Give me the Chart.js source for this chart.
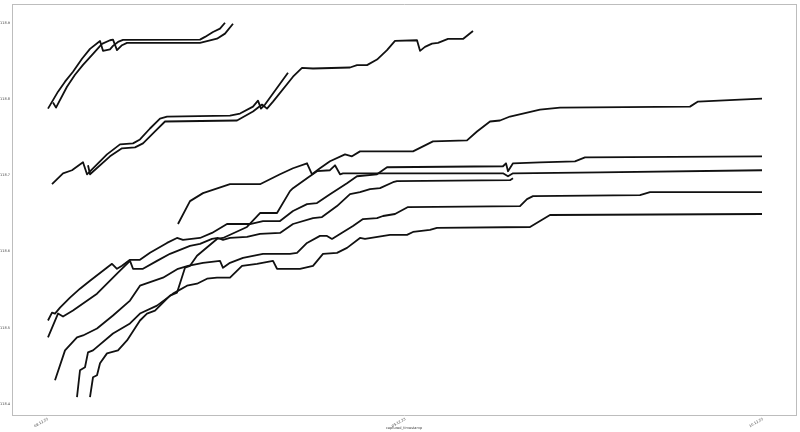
<!DOCTYPE html>
<html>
<head>
<meta charset="utf-8">
<script src="https://cdn.jsdelivr.net/npm/chart.js@4/dist/chart.umd.min.js"></script>
<style>
  html, body { margin: 0; padding: 0; background: #ffffff; }
  #wrap { width: 800px; height: 432px; position: relative; }
</style>
</head>
<body>
<div id="wrap"><canvas id="c"></canvas></div>
<script>
// ---- tick labels ----
const xTickValues = [0, 1, 2];
const xTickLabels = ["08.12.23", "09.12.23", "10.12.23"];
const yTickValues = [118.4, 118.5, 118.6, 118.7, 118.8, 118.9];
const yTickLabels = ["118.4", "118.5", "118.6", "118.7", "118.8", "118.9"];
const xAxisTitle = "captured_timestamp";

// ---- series (x in days from first tick, y values) ----
const s1aX = [0, 0.0280, 0.0476, 0.0699, 0.0951, 0.1175, 0.1455, 0.1538, 0.1734, 0.1818, 0.1958, 0.2098, 0.4252, 0.4392, 0.4615, 0.4811, 0.4951];
const s1aY = [118.7874, 118.8096, 118.8227, 118.8357, 118.8527, 118.8657, 118.8761, 118.8631, 118.8651, 118.8696, 118.8748, 118.8774, 118.8778, 118.8814, 118.8879, 118.8922, 118.9000];

const s1bX = [0.0140, 0.0224, 0.0531, 0.0755, 0.0979, 0.1259, 0.1510, 0.1734, 0.1818, 0.1930, 0.2070, 0.2210, 0.4252, 0.4448, 0.4727, 0.4951, 0.5175];
const s1bY = [118.7953, 118.7887, 118.8161, 118.8318, 118.8448, 118.8592, 118.8722, 118.8770, 118.8778, 118.8640, 118.8705, 118.8735, 118.8735, 118.8757, 118.8791, 118.8857, 118.8987];

const s2aX = [0.0112, 0.0420, 0.0671, 0.0979, 0.1091, 0.1650, 0.2014, 0.2378, 0.2573, 0.2853, 0.3133, 0.3329, 0.5091, 0.5371, 0.5734, 0.5874, 0.5958, 0.6070, 0.6713];
const s2aY = [118.6883, 118.7026, 118.7066, 118.7170, 118.7013, 118.7274, 118.7405, 118.7418, 118.7470, 118.7613, 118.7744, 118.7770, 118.7783, 118.7809, 118.7900, 118.7979, 118.7874, 118.7927, 118.8344];

const s2bX = [0.1119, 0.1175, 0.1734, 0.2070, 0.2434, 0.2657, 0.2993, 0.3273, 0.5287, 0.5734, 0.5986, 0.6126, 0.6294, 0.6853, 0.7105, 0.7413, 0.8448, 0.8643, 0.8923, 0.9203, 0.9483, 0.9706, 1.0322, 1.0406, 1.0545, 1.0741, 1.0909, 1.1189, 1.1608, 1.1888];
const s2bY = [118.7131, 118.7013, 118.7248, 118.7353, 118.7366, 118.7418, 118.7574, 118.7705, 118.7718, 118.7835, 118.7927, 118.7874, 118.7966, 118.8292, 118.8409, 118.8400, 118.8413, 118.8444, 118.8444, 118.8517, 118.8640, 118.8761, 118.8770, 118.8631, 118.8683, 118.8726, 118.8735, 118.8787, 118.8787, 118.8892];

const s4X = [0.3636, 0.3972, 0.4336, 0.5091, 0.5930, 0.6210, 0.6490, 0.6853, 0.7245, 0.7385, 0.7608, 0.7888, 0.8308, 0.8503, 0.8727, 1.0210, 1.0490, 1.0769, 1.1720, 1.2000, 1.2364, 1.2643, 1.2923, 1.3762, 1.4322, 1.7958, 1.8182, 1.9357, 1.9972];
const s4Y = [118.6361, 118.6661, 118.6766, 118.6883, 118.6883, 118.6948, 118.7013, 118.7092, 118.7157, 118.7013, 118.7092, 118.7183, 118.7274, 118.7248, 118.7313, 118.7313, 118.7379, 118.7444, 118.7457, 118.7574, 118.7705, 118.7718, 118.7770, 118.7861, 118.7887, 118.7900, 118.7966, 118.7992, 118.8005];

const s5X = [0.1175, 0.1259, 0.1371, 0.1455, 0.1650, 0.1958, 0.2210, 0.2573, 0.2769, 0.2993, 0.3413, 0.3608, 0.3832, 0.3972, 0.4168, 0.4727, 0.4895, 0.5566, 0.5930, 0.6406, 0.6769, 0.6853, 0.7245, 0.7524, 0.7888, 0.8028, 0.8168, 0.8252, 1.2727, 1.2867, 1.3007, 1.5441, 1.9972];
const s5Y = [118.4091, 118.4352, 118.4378, 118.4535, 118.4665, 118.4704, 118.4835, 118.5096, 118.5187, 118.5226, 118.5422, 118.5461, 118.5787, 118.5813, 118.5944, 118.6165, 118.6178, 118.6322, 118.6505, 118.6505, 118.6792, 118.6831, 118.6961, 118.7053, 118.7066, 118.7131, 118.7013, 118.7026, 118.7026, 118.6987, 118.7026, 118.7039, 118.7066];

const s6X = [0, 0.0112, 0.0196, 0.0336, 0.0615, 0.0895, 0.1175, 0.1790, 0.1930, 0.2070, 0.2294, 0.2573, 0.2853, 0.3329, 0.3608, 0.3776, 0.4252, 0.4587, 0.5007, 0.5650, 0.6014, 0.6490, 0.6853, 0.7245, 0.7524, 0.7888, 0.8364, 0.8643, 0.9203, 0.9483, 1.2727, 1.2811, 1.2867, 1.3007, 1.3762, 1.4741, 1.5021, 1.9972];
const s6Y = [118.5096, 118.5200, 118.5187, 118.5265, 118.5396, 118.5513, 118.5618, 118.5839, 118.5774, 118.5813, 118.5892, 118.5892, 118.5983, 118.6113, 118.6178, 118.6152, 118.6178, 118.6244, 118.6361, 118.6361, 118.6400, 118.6400, 118.6531, 118.6622, 118.6635, 118.6752, 118.6896, 118.6987, 118.7013, 118.7105, 118.7118, 118.7157, 118.7053, 118.7157, 118.7170, 118.7183, 118.7235, 118.7248];

const s7X = [0, 0.0280, 0.0420, 0.0699, 0.1371, 0.1930, 0.2294, 0.2378, 0.2657, 0.3049, 0.3413, 0.3972, 0.4252, 0.4587, 0.4755, 0.4895, 0.5091, 0.5566, 0.5930, 0.6490, 0.6853, 0.7413, 0.7664, 0.8084, 0.8448, 0.8727, 0.9007, 0.9287, 0.9650, 0.9762, 1.2923, 1.3007];
const s7Y = [118.4874, 118.5187, 118.5148, 118.5226, 118.5448, 118.5709, 118.5878, 118.5774, 118.5774, 118.5878, 118.5970, 118.6074, 118.6100, 118.6165, 118.6178, 118.6152, 118.6178, 118.6192, 118.6231, 118.6244, 118.6361, 118.6439, 118.6452, 118.6596, 118.6752, 118.6779, 118.6818, 118.6831, 118.6909, 118.6922, 118.6935, 118.6961];

const s8X = [0.0196, 0.0476, 0.0811, 0.0979, 0.1371, 0.1818, 0.2294, 0.2573, 0.3217, 0.3636, 0.3916, 0.4336, 0.4811, 0.4895, 0.5091, 0.5455, 0.6014, 0.6769, 0.6965, 0.7245, 0.7608, 0.7804, 0.7944, 0.8168, 0.8531, 0.8811, 0.9203, 0.9371, 0.9706, 1.0070, 1.3203, 1.3399, 1.3566, 1.6559, 1.6839, 1.9972];
const s8Y = [118.4313, 118.4704, 118.4874, 118.4900, 118.4991, 118.5161, 118.5357, 118.5552, 118.5657, 118.5774, 118.5813, 118.5852, 118.5878, 118.5787, 118.5852, 118.5918, 118.5970, 118.5970, 118.5983, 118.6113, 118.6205, 118.6205, 118.6165, 118.6231, 118.6335, 118.6426, 118.6439, 118.6466, 118.6492, 118.6583, 118.6596, 118.6687, 118.6726, 118.6739, 118.6779, 118.6779];

const s9X = [0.0811, 0.0895, 0.1035, 0.1119, 0.1259, 0.1818, 0.2294, 0.2573, 0.3049, 0.3497, 0.3888, 0.4168, 0.4448, 0.4727, 0.5091, 0.5427, 0.5846, 0.6294, 0.6406, 0.6769, 0.7049, 0.7413, 0.7692, 0.8084, 0.8364, 0.8727, 0.8867, 0.9566, 1.0042, 1.0210, 1.0685, 1.0881, 1.3483, 1.3762, 1.4042, 1.9972];
const s9Y = [118.4091, 118.4444, 118.4483, 118.4678, 118.4704, 118.4926, 118.5057, 118.5187, 118.5291, 118.5448, 118.5552, 118.5578, 118.5644, 118.5657, 118.5657, 118.5813, 118.5839, 118.5878, 118.5774, 118.5774, 118.5774, 118.5813, 118.5970, 118.5983, 118.6048, 118.6178, 118.6165, 118.6218, 118.6218, 118.6257, 118.6283, 118.6309, 118.6322, 118.6400, 118.6479, 118.6492];

const seriesList = [
  [s1aX, s1aY], [s1bX, s1bY], [s2aX, s2aY], [s2bX, s2bY], [s4X, s4Y],
  [s5X, s5Y], [s6X, s6Y], [s7X, s7Y], [s8X, s8Y], [s9X, s9Y]
];

const FONT = { family: "'DejaVu Sans', sans-serif", size: 3.5 };
const FRAME = '#bdbdbd';

const datasets = seriesList.map(([xs, ys]) => ({
  data: xs.map((x, i) => ({ x: x, y: ys[i] })),
  borderColor: '#111111',
  borderWidth: 1.8,
  pointRadius: 0,
  tension: 0,
  fill: false,
  borderJoinStyle: 'round',
  xAxisID: 'x',
  yAxisID: 'y'
}));

new Chart(document.getElementById('c'), {
  type: 'line',
  data: { datasets },
  options: {
    responsive: true,
    maintainAspectRatio: false,
    animation: false,
    events: [],
    layout: { padding: 0 },
    plugins: { legend: { display: false }, tooltip: { enabled: false }, title: { display: false } },
    scales: {
      x: {
        type: 'linear', position: 'bottom',
        min: -0.1007, max: 2.0923,
        afterBuildTicks: s => { s.ticks = xTickValues.map(v => ({ value: v })); },
        afterFit: s => { s.height = 17; },
        ticks: {
          autoSkip: false, minRotation: 30, maxRotation: 30, padding: 2,
          font: FONT, color: '#444',
          callback: (v) => { const i = xTickValues.indexOf(v); return i >= 0 ? xTickLabels[i] : ''; }
        },
        grid: { display: false, drawTicks: false },
        border: { display: true, color: FRAME, width: 1 },
        title: { display: true, text: xAxisTitle, font: FONT, color: '#444', padding: { top: 0, bottom: 2 } }
      },
      x2: {
        type: 'linear', position: 'top', min: 0, max: 1,
        afterFit: s => { s.height = 2; },
        ticks: { display: false },
        grid: { display: false, drawTicks: false },
        border: { display: true, color: FRAME, width: 1 }
      },
      y: {
        type: 'linear', position: 'left',
        min: 118.3857, max: 118.9244,
        afterBuildTicks: s => { s.ticks = yTickValues.map(v => ({ value: v })); },
        afterFit: s => { s.width = 12; },
        ticks: {
          autoSkip: false, padding: 2, font: FONT, color: '#444',
          callback: (v) => { const i = yTickValues.findIndex(t => Math.abs(t - v) < 1e-6); return i >= 0 ? yTickLabels[i] : ''; }
        },
        grid: { display: false, drawTicks: false },
        border: { display: true, color: FRAME, width: 1 }
      },
      y2: {
        type: 'linear', position: 'right', min: 0, max: 1,
        afterFit: s => { s.width = 4; },
        ticks: { display: false },
        grid: { display: false, drawTicks: false },
        border: { display: true, color: FRAME, width: 1 }
      }
    }
  }
});
</script>
</body>
</html>
